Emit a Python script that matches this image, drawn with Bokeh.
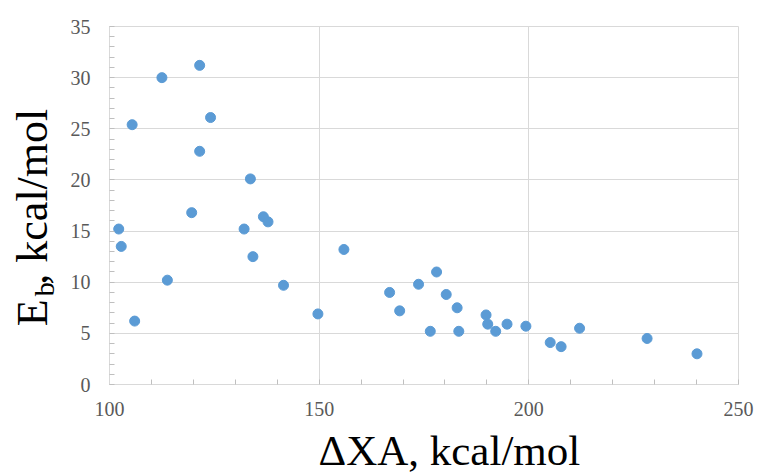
import math
from bokeh.plotting import figure
from bokeh.layouts import row, column
from bokeh.models import Range1d, FixedTicker, ColumnDataSource
from bokeh.core.properties import value
from bokeh.embed import file_html
from bokeh.resources import INLINE

# Data
dxa = [121.5, 112.5, 105.4, 124.1, 121.5, 133.6, 119.6, 136.7, 137.8, 102.2,
       132.1, 102.8, 134.2, 113.8, 141.5, 106.0, 149.7, 155.9, 166.8, 169.2,
       173.7, 178.0, 180.3, 182.9, 176.5, 183.3, 189.8, 190.2, 192.1, 194.8,
       199.3, 205.1, 207.7, 212.1, 228.2, 240.1]
eb = [31.2, 30.0, 25.4, 26.1, 22.8, 20.1, 16.8, 16.4, 15.9, 15.2,
      15.2, 13.5, 12.5, 10.2, 9.7, 6.2, 6.9, 13.2, 9.0, 7.2,
      9.8, 11.0, 8.8, 7.5, 5.2, 5.2, 6.8, 5.9, 5.2, 5.9,
      5.7, 4.1, 3.7, 5.5, 4.5, 3.0]
x_ticks = [100, 150, 200, 250]
y_ticks = [0, 5, 10, 15, 20, 25, 30, 35]
x_title = "ΔXA, kcal/mol"
y_title_main = "E \u200a, kcal/mol"   # gap is filled by the subscript
y_title_sub = "b"

FONT = "Liberation Serif"
GRID = "#d9d9d9"

# ---------------- main scatter plot ----------------
p = figure(width=702, height=430, output_backend="svg", toolbar_location=None,
           x_range=Range1d(100, 250), y_range=Range1d(0, 35),
           min_border_left=49, min_border_right=24,
           min_border_top=26, min_border_bottom=46)
p.background_fill_color = "white"
p.border_fill_color = "white"
p.outline_line_color = GRID

for ax, ticks, step in ((p.xaxis[0], x_ticks, 10), (p.yaxis[0], y_ticks, 1)):
    ax.ticker = FixedTicker(ticks=ticks, minor_ticks=list(range(0, 251, step)))
    ax.axis_line_color = GRID
    ax.major_tick_in = 0
    ax.major_tick_out = 0
    ax.minor_tick_in = 5
    ax.minor_tick_out = 0
    ax.minor_tick_line_color = "#bfbfbf"
    ax.major_label_text_font = FONT
    ax.major_label_text_font_size = "20px"
    ax.major_label_text_color = "#595959"

p.xaxis.major_label_standoff = 17
p.yaxis.major_label_standoff = 19

p.xgrid.ticker = FixedTicker(ticks=x_ticks)
p.ygrid.ticker = FixedTicker(ticks=y_ticks)
p.grid.grid_line_color = GRID
p.grid.grid_line_width = 1

src = ColumnDataSource(dict(x=dxa, y=eb))
p.scatter("x", "y", source=src, size=10, fill_color="#5b9bd5", line_color="#5b9bd5")


def blank(w, h):
    f = figure(width=w, height=h, output_backend="svg", toolbar_location=None,
               x_range=Range1d(0, w), y_range=Range1d(h, 0),
               x_axis_type=None, y_axis_type=None, min_border=0)
    f.outline_line_color = None
    f.background_fill_color = "white"
    f.border_fill_color = "white"
    return f


# ---------------- y title panel (pixel coordinates) ----------------
ly = blank(60, 430)
txt = dict(text_font=value(FONT), text_color="black", text_align=value("left"),
           text_baseline=value("middle"), angle=math.pi / 2)
ly.text(x=[32.2], y=[360], text=[y_title_main], text_font_size=value("44px"), **txt)
ly.text(x=[43.5], y=[324], text=[y_title_sub], text_font_size=value("28px"), **txt)

# ---------------- x title panel (pixel coordinates) ----------------
lx = blank(762, 46)
lx.text(x=[318], y=[20], text=[x_title], text_font=value(FONT), text_color="black",
        text_align=value("left"), text_baseline=value("middle"),
        text_font_size=value("43px"))

layout = column(row(ly, p, spacing=0), lx, spacing=0)

open("out.html", "w").write(file_html(layout, INLINE))
